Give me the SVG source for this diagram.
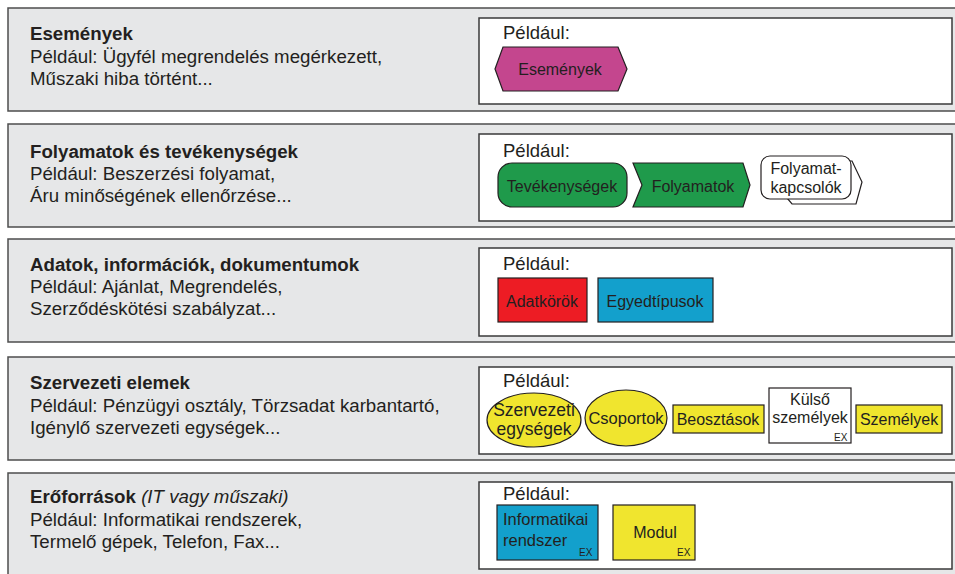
<svg xmlns="http://www.w3.org/2000/svg" width="955" height="574" viewBox="0 0 955 574">
<style>
.panel{fill:#e6e7e8;stroke:#4d4d4d;stroke-width:1.5}
.inner{fill:#ffffff;stroke:#3a3a3a;stroke-width:1.5}
text{font-family:"Liberation Sans",Arial,sans-serif;fill:#231f20}
.lt{font-size:18.7px}
.b{font-weight:bold}
.pl{font-size:18.5px}
.s{font-size:16px;text-anchor:middle}
.ex{font-size:10px}
.sh{stroke:#231f20;stroke-width:1.2}
</style>
<rect width="955" height="574" fill="#ffffff"/>

<g id="panel-esemenyek">
<rect class="panel" x="8" y="8" width="960" height="103"/>
<text class="lt b" x="30" y="40">Események</text>
<text class="lt" x="30" y="63">Például: Ügyfél megrendelés megérkezett,</text>
<text class="lt" x="30" y="85">Műszaki hiba történt...</text>
<rect class="inner" x="479" y="18" width="473" height="86"/>
<text class="pl" x="503" y="39">Például:</text>
</g>
<g id="node-esemenyek">
<polygon class="sh" fill="#c4468e" points="495,69 503,47 618,47 627,69 618,91 503,91"/>
<text class="s" x="560" y="75">Események</text>
</g>

<g id="panel-folyamatok">
<rect class="panel" x="8" y="124" width="960" height="103"/>
<text class="lt b" x="30" y="158">Folyamatok és tevékenységek</text>
<text class="lt" x="30" y="180">Például: Beszerzési folyamat,</text>
<text class="lt" x="30" y="202">Áru minőségének ellenőrzése...</text>
<rect class="inner" x="479" y="134" width="473" height="87"/>
<text class="pl" x="503" y="157">Például:</text>
</g>
<g id="node-tevekenysegek">
<rect class="sh" fill="#1f9a4b" x="498" y="163" width="129" height="44" rx="14"/>
<text class="s" x="562" y="192">Tevékenységek</text>
</g>
<g id="node-folyamatok">
<polygon class="sh" fill="#1f9a4b" points="633,163 743,163 750,185 743,207 633,207 642,185"/>
<text class="s" x="693" y="192">Folyamatok</text>
</g>
<g id="node-folyamatkapcsolok">
<polygon class="sh" fill="#ffffff" points="786,161 852,161 862,182 856,204 792,204 787,198"/>
<rect class="sh" fill="#ffffff" x="761" y="156" width="90" height="43" rx="9"/>
<text class="s" x="806" y="174">Folyamat-</text>
<text class="s" x="806" y="193">kapcsolók</text>
</g>

<g id="panel-adatok">
<rect class="panel" x="8" y="239" width="960" height="103"/>
<text class="lt b" x="30" y="271">Adatok, információk, dokumentumok</text>
<text class="lt" x="30" y="293">Például: Ajánlat, Megrendelés,</text>
<text class="lt" x="30" y="315">Szerződéskötési szabályzat...</text>
<rect class="inner" x="479" y="248" width="473" height="88"/>
<text class="pl" x="503" y="270">Például:</text>
</g>
<g id="node-adatkorok">
<rect class="sh" fill="#ed1c24" x="498" y="278" width="89" height="44"/>
<text class="s" x="542" y="307">Adatkörök</text>
</g>
<g id="node-egyedtipusok">
<rect class="sh" fill="#13a0cc" x="598" y="278" width="115" height="44"/>
<text class="s" x="655" y="307">Egyedtípusok</text>
</g>

<g id="panel-szervezeti">
<rect class="panel" x="8" y="357" width="960" height="103"/>
<text class="lt b" x="30" y="389">Szervezeti elemek</text>
<text class="lt" x="30" y="412">Például: Pénzügyi osztály, Törzsadat karbantartó,</text>
<text class="lt" x="30" y="434">Igénylő szervezeti egységek...</text>
<rect class="inner" x="479" y="367" width="473" height="87"/>
<text class="pl" x="503" y="387">Például:</text>
</g>
<g id="node-szervezeti-egysegek">
<ellipse class="sh" fill="#f0e52e" cx="534" cy="420" rx="47" ry="27"/>
<text class="s" x="534" y="416" style="font-size:17.5px">Szervezeti</text>
<text class="s" x="534" y="435" style="font-size:17.5px">egységek</text>
</g>
<g id="node-csoportok">
<ellipse class="sh" fill="#f0e52e" cx="626" cy="418" rx="41" ry="28"/>
<text class="s" x="626" y="424" style="font-size:16.5px">Csoportok</text>
</g>
<g id="node-beosztasok">
<rect class="sh" fill="#f0e52e" x="673" y="405" width="91" height="28"/>
<text class="s" x="718" y="425">Beosztások</text>
</g>
<g id="node-kulso-szemelyek">
<rect class="sh" fill="#ffffff" x="769" y="388" width="82" height="55"/>
<text class="s" x="810" y="405">Külső</text>
<text class="s" x="810" y="423">személyek</text>
<text class="ex" x="834" y="441">EX</text>
</g>
<g id="node-szemelyek">
<rect class="sh" fill="#f0e52e" x="856" y="405" width="86" height="28"/>
<text class="s" x="899" y="425">Személyek</text>
</g>

<g id="panel-eroforrasok">
<rect class="panel" x="8" y="473" width="960" height="110"/>
<text class="lt" x="30" y="503"><tspan class="b">Erőforrások</tspan> <tspan font-style="italic">(IT vagy műszaki)</tspan></text>
<text class="lt" x="30" y="526">Például: Informatikai rendszerek,</text>
<text class="lt" x="30" y="548">Termelő gépek, Telefon, Fax...</text>
<rect class="inner" x="479" y="482" width="473" height="87"/>
<text class="pl" x="503" y="500">Például:</text>
</g>
<g id="node-informatikai-rendszer">
<rect class="sh" fill="#13a0cc" x="497" y="505" width="101" height="55"/>
<text x="503" y="525" style="font-size:16.5px">Informatikai</text>
<text x="503" y="546" style="font-size:16.5px">rendszer</text>
<text class="ex" x="579" y="556">EX</text>
</g>
<g id="node-modul">
<rect class="sh" fill="#f0e52e" x="613" y="505" width="82" height="55"/>
<text class="s" x="655" y="538">Modul</text>
<text class="ex" x="677" y="556">EX</text>
</g>

<g id="connectors"></g>
</svg>
